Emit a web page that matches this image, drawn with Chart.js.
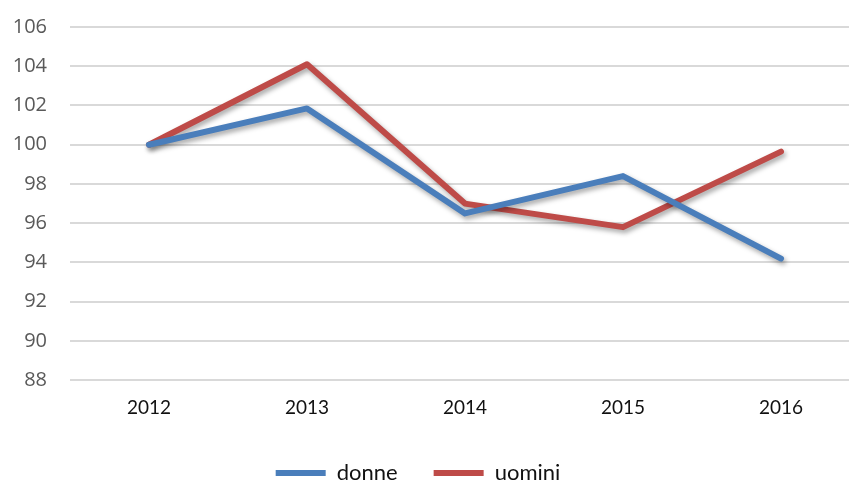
<!DOCTYPE html>
<html>
<head>
<meta charset="utf-8">
<script src="https://cdn.jsdelivr.net/npm/chart.js@4/dist/chart.umd.min.js"></script>
<style>
  html, body { margin: 0; padding: 0; background: #fff; overflow: hidden; }
  #frame { width: 849px; height: 482px; overflow: hidden; }
</style>
</head>
<body>
<div id="frame">
  <canvas id="chart" width="862" height="494"></canvas>
</div>
<script>
// Data
const years = ['2012', '2013', '2014', '2015', '2016'];
const donne = [100, 101.85, 96.5, 98.4, 94.2];
const uomini = [100, 104.1, 97.0, 95.8, 99.65];
const yMin = 88;
const yMax = 106;
const yStep = 2;

// soft drop shadow under the lines, like the office chart
const lineShadow = {
  id: 'lineShadow',
  beforeDatasetsDraw(chart) {
    const ctx = chart.ctx;
    ctx.save();
    ctx.shadowColor = 'rgba(0, 0, 0, 0.35)';
    ctx.shadowBlur = 5;
    ctx.shadowOffsetX = 2;
    ctx.shadowOffsetY = 3;
  },
  afterDatasetsDraw(chart) {
    chart.ctx.restore();
  }
};

// legend sits a bit left of the canvas centre in the reference
const legendShift = {
  id: 'legendShift',
  afterUpdate(chart) {
    if (!chart.legend) return;
    chart.legend.left -= 12;
    chart.legend.right -= 12;
  }
};

const makeSeries = (label, data, color) => ({
  label,
  data,
  borderColor: color,
  backgroundColor: color,
  borderWidth: 6,
  borderCapStyle: 'round',
  borderJoinStyle: 'round',
  pointRadius: 0,
  pointHoverRadius: 0,
  tension: 0,
  fill: false
});

new Chart(document.getElementById('chart').getContext('2d'), {
  type: 'line',
  data: {
    labels: years,
    datasets: [
      makeSeries('donne', donne, '#4a7ebb'),
      makeSeries('uomini', uomini, '#be4b48')
    ]
  },
  options: {
    responsive: false,
    animation: false,
    devicePixelRatio: 1,
    layout: { padding: { top: 27, right: 2, left: 0, bottom: 0 } },
    scales: {
      x: {
        offset: true,
        grid: { display: false, drawTicks: false },
        border: { display: false },
        ticks: {
          padding: 16,
          color: '#111',
          font: { family: 'Lato', size: 19 }
        },
        afterFit: (scale) => { scale.height -= 9; }
      },
      y: {
        min: yMin,
        max: yMax,
        grid: {
          color: '#d9d9d9',
          lineWidth: 2,
          drawTicks: true,
          tickLength: 23,
          tickColor: 'rgba(0,0,0,0)'
        },
        border: { display: false },
        ticks: {
          stepSize: yStep,
          padding: 0,
          color: '#595959',
          font: { family: 'Open Sans', size: 20 }
        },
        afterFit: (scale) => { scale.width = 70; }
      }
    },
    plugins: {
      legend: {
        position: 'bottom',
        labels: {
          usePointStyle: true,
          pointStyle: 'line',
          pointStyleWidth: 50,
          padding: 36,
          color: '#111',
          font: { family: 'Lato', size: 22 }
        }
      },
      tooltip: { enabled: false }
    }
  },
  plugins: [lineShadow, legendShift]
});
</script>
</body>
</html>
